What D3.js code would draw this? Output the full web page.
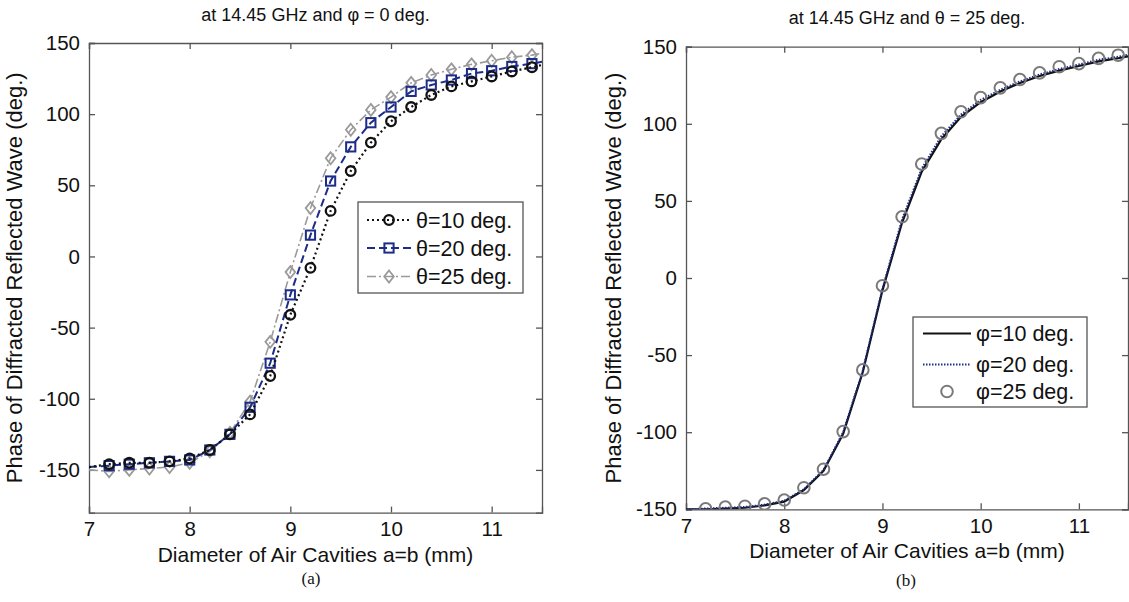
<!DOCTYPE html>
<html><head><meta charset="utf-8">
<script src="https://cdn.jsdelivr.net/npm/d3@7"></script>
<style>body{margin:0;background:#fff}svg{display:block}text{font-family:"Liberation Sans",Arial,sans-serif;fill:#111}</style>
</head><body><svg id="c" width="1129" height="602"></svg>
<script>
// ---- data ----
const xA = [7.0,7.2,7.4,7.6,7.8,8.0,8.2,8.4,8.6,8.8,9.0,9.2,9.4,9.6,9.8,10.0,10.2,10.4,10.6,10.8,11.0,11.2,11.4,11.6];
const theta10 = [-148,-146,-145,-145,-144,-142,-136,-125,-111,-84,-41,-8,32,60,80,95,105,113.5,119.5,123,126.5,130,133,136];
const theta20 = [-148,-147,-146,-145,-144,-143,-136,-125,-106,-75,-27,15,53,77,94,105,116,120.5,124,128.5,130.5,133.5,135.5,138];
const theta25 = [-150,-151,-150,-149,-148,-145,-137,-124,-102,-60,-11,34,69,89,103,112,122,127.5,131.5,135,137.5,140,141.5,144];
const xB = [7.0,7.2,7.4,7.6,7.8,8.0,8.2,8.4,8.6,8.8,9.0,9.2,9.4,9.6,9.8,10.0,10.2,10.4,10.6,10.8,11.0,11.2,11.4,11.6];
const phi10 = [-150,-150,-149.5,-149,-147.5,-145,-137.5,-125,-101,-61,-8,36,69,90,104.5,114,121,126.5,131,134.5,137.5,140.5,142.5,145];
const phi20 = [-150,-149.5,-149,-148.5,-147,-144.5,-137,-124.5,-100,-60,-7,38,71,92,106,115.5,122,127.5,132,135.5,138.5,141.5,143.5,146];
const xC = [7.2,7.4,7.6,7.8,8.0,8.2,8.4,8.6,8.8,9.0,9.2,9.4,9.6,9.8,10.0,10.2,10.4,10.6,10.8,11.0,11.2,11.4];
const phi25 = [-149.7,-148.6,-148,-146.5,-144,-136,-124,-99.6,-59.6,-5,39.7,73.9,93.8,107.8,117,123.3,128.7,133,137,139,142.4,144.5];
const xTicks = [7,8,9,10,11];
const yTicks = [-150,-100,-50,0,50,100,150];
const titleA = "at 14.45 GHz and \u03C6 = 0 deg.";
const titleB = "at 14.45 GHz and \u03B8 = 25 deg.";
const xLabel = "Diameter of Air Cavities a=b (mm)";
const yLabel = "Phase of Diffracted Reflected Wave (deg.)";
const legA = ["\u03B8=10 deg.","\u03B8=20 deg.","\u03B8=25 deg."];
const legB = ["\u03C6=10 deg.","\u03C6=20 deg.","\u03C6=25 deg."];

const svg = d3.select("#c");
const AX = "#555";
const fmt = d => String(d);

function panel(o){
  const g = svg.append("g");
  const x = d3.scaleLinear().domain([7,11.5]).range([o.l,o.r]);
  const y = d3.scaleLinear().domain(o.yd).range([o.b,o.t]);
  const clipId = "clip"+o.id;
  svg.append("clipPath").attr("id",clipId).append("rect")
     .attr("x",o.l).attr("y",o.t).attr("width",o.r-o.l).attr("height",o.b-o.t);
  const tk = 6;
  const bx = g.append("g").attr("transform",`translate(0,${o.b})`)
     .call(d3.axisBottom(x).tickValues(xTicks).tickSize(-tk).tickPadding(9).tickFormat(fmt));
  const tx = g.append("g").attr("transform",`translate(0,${o.t})`)
     .call(d3.axisTop(x).tickValues(xTicks).tickSize(-tk).tickFormat(""));
  const ly = g.append("g").attr("transform",`translate(${o.l},0)`)
     .call(d3.axisLeft(y).tickValues(yTicks).tickSize(-tk).tickPadding(9).tickFormat(fmt));
  const ry = g.append("g").attr("transform",`translate(${o.r},0)`)
     .call(d3.axisRight(y).tickValues(yTicks).tickSize(-tk).tickFormat(""));
  [bx,tx,ly,ry].forEach(a=>{
    a.select(".domain").attr("stroke",AX).attr("stroke-width",1.3);
    a.selectAll(".tick line").attr("stroke",AX).attr("stroke-width",1.3);
    a.selectAll("text").style("font-size","20.5px").attr("fill","#111").style("font-family","Liberation Sans, Arial, sans-serif");
  });
  g.append("text").attr("x",(o.l+o.r)/2).attr("y",o.ty).attr("text-anchor","middle")
    .style("font-size","18px").text(o.title);
  g.append("text").attr("x",(o.l+o.r)/2).attr("y",o.b+49).attr("text-anchor","middle")
    .style("font-size","21px").text(xLabel);
  g.append("text").attr("transform",`translate(${o.yl},${(o.t+o.b)/2}) rotate(-90)`).attr("text-anchor","middle")
    .style("font-size","22px").text(yLabel);
  g.append("text").attr("x",o.capX).attr("y",o.capY).attr("text-anchor","middle")
    .style("font-family","Liberation Serif, Times New Roman, serif").style("font-size","17px").text(o.cap);
  const plot = g.append("g").attr("clip-path",`url(#${clipId})`);
  return {x,y,plot,g};
}

function drawMarker(sel, type, cx, cy, st){
  if(type==="circle") sel.append("circle").attr("cx",cx).attr("cy",cy).attr("r",st.r).attr("fill","none").attr("stroke",st.c).attr("stroke-width",st.w);
  else if(type==="square") sel.append("rect").attr("x",cx-st.r).attr("y",cy-st.r).attr("width",2*st.r).attr("height",2*st.r).attr("fill","none").attr("stroke",st.c).attr("stroke-width",st.w);
  else if(type==="diamond") sel.append("path").attr("d",`M${cx},${cy-st.r}L${cx+st.r*0.8},${cy}L${cx},${cy+st.r}L${cx-st.r*0.8},${cy}Z`).attr("fill","none").attr("stroke",st.c).attr("stroke-width",st.w);
}

// ---- Panel A ----
const A = panel({id:"a",l:89,r:542,t:43,b:512.6,yd:[-180,150],title:titleA,ty:21,yl:22,cap:"(a)",capX:311,capY:584});
const seriesA = [
  {v:theta25, c:"#9a9a9a", dash:"9,3,2,3", w:1.6, m:"diamond", ms:{r:6,w:1.8,c:"#9a9a9a"}},
  {v:theta20, c:"#1c2c88", dash:"8,4", w:2, m:"square", ms:{r:4.6,w:2,c:"#1c2c88"}},
  {v:theta10, c:"#111", dash:"2,3", w:2.2, m:"circle", ms:{r:4.8,w:2.3,c:"#111"}}
];
seriesA.forEach(s=>{
  const pts = xA.map((d,i)=>[A.x(d),A.y(s.v[i])]);
  A.plot.append("path").attr("d",d3.line()(pts)).attr("fill","none").attr("stroke",s.c)
    .attr("stroke-width",s.w).attr("stroke-dasharray",s.dash);
  xA.forEach((d,i)=>{ if(d>7 && d<11.5) drawMarker(A.plot,s.m,A.x(d),A.y(s.v[i]),s.ms); });
});
(function(){
  const lg = A.g.append("g");
  lg.append("rect").attr("x",358).attr("y",202).attr("width",165).attr("height",91).attr("fill","#fff").attr("stroke",AX).attr("stroke-width",1.3);
  const order = [seriesA[2],seriesA[1],seriesA[0]];
  const ys = [220,248,276.5];
  order.forEach((s,i)=>{
    lg.append("line").attr("x1",367).attr("x2",411).attr("y1",ys[i]).attr("y2",ys[i]).attr("stroke",s.c).attr("stroke-width",s.w).attr("stroke-dasharray",s.dash);
    drawMarker(lg,s.m,389,ys[i],s.ms);
    lg.append("text").attr("x",416).attr("y",ys[i]+7.5).style("font-size","21.5px").text(legA[i]);
  });
})();

// ---- Panel B ----
const B = panel({id:"b",l:686,r:1128,t:46.7,b:509.3,yd:[-150,150],title:titleB,ty:24,yl:621,cap:"(b)",capX:906,capY:586});
B.plot.append("path").attr("d",d3.line()(xB.map((d,i)=>[B.x(d),B.y(phi10[i])]))).attr("fill","none").attr("stroke","#111").attr("stroke-width",2.2);
B.plot.append("path").attr("d",d3.line()(xB.map((d,i)=>[B.x(d),B.y(phi20[i])]))).attr("fill","none").attr("stroke","#1c2c88").attr("stroke-width",2).attr("stroke-dasharray","1.5,1.5");
const cSt = {r:5.8,w:2,c:"#7a7a7a"};
xC.forEach((d,i)=>drawMarker(B.plot,"circle",B.x(d),B.y(phi25[i]),cSt));
(function(){
  const lg = B.g.append("g");
  lg.append("rect").attr("x",913).attr("y",317).attr("width",174).attr("height",90).attr("fill","#fff").attr("stroke",AX).attr("stroke-width",1.3);
  const ys = [333.5,364.5,391.5];
  lg.append("line").attr("x1",923).attr("x2",971).attr("y1",ys[0]).attr("y2",ys[0]).attr("stroke","#111").attr("stroke-width",2.2);
  lg.append("line").attr("x1",923).attr("x2",971).attr("y1",ys[1]).attr("y2",ys[1]).attr("stroke","#1c2c88").attr("stroke-width",2).attr("stroke-dasharray","1.5,1.5");
  drawMarker(lg,"circle",947,ys[2],cSt);
  legB.forEach((t,i)=>lg.append("text").attr("x",976).attr("y",ys[i]+7.5).style("font-size","21.5px").text(t));
})();
</script></body></html>
